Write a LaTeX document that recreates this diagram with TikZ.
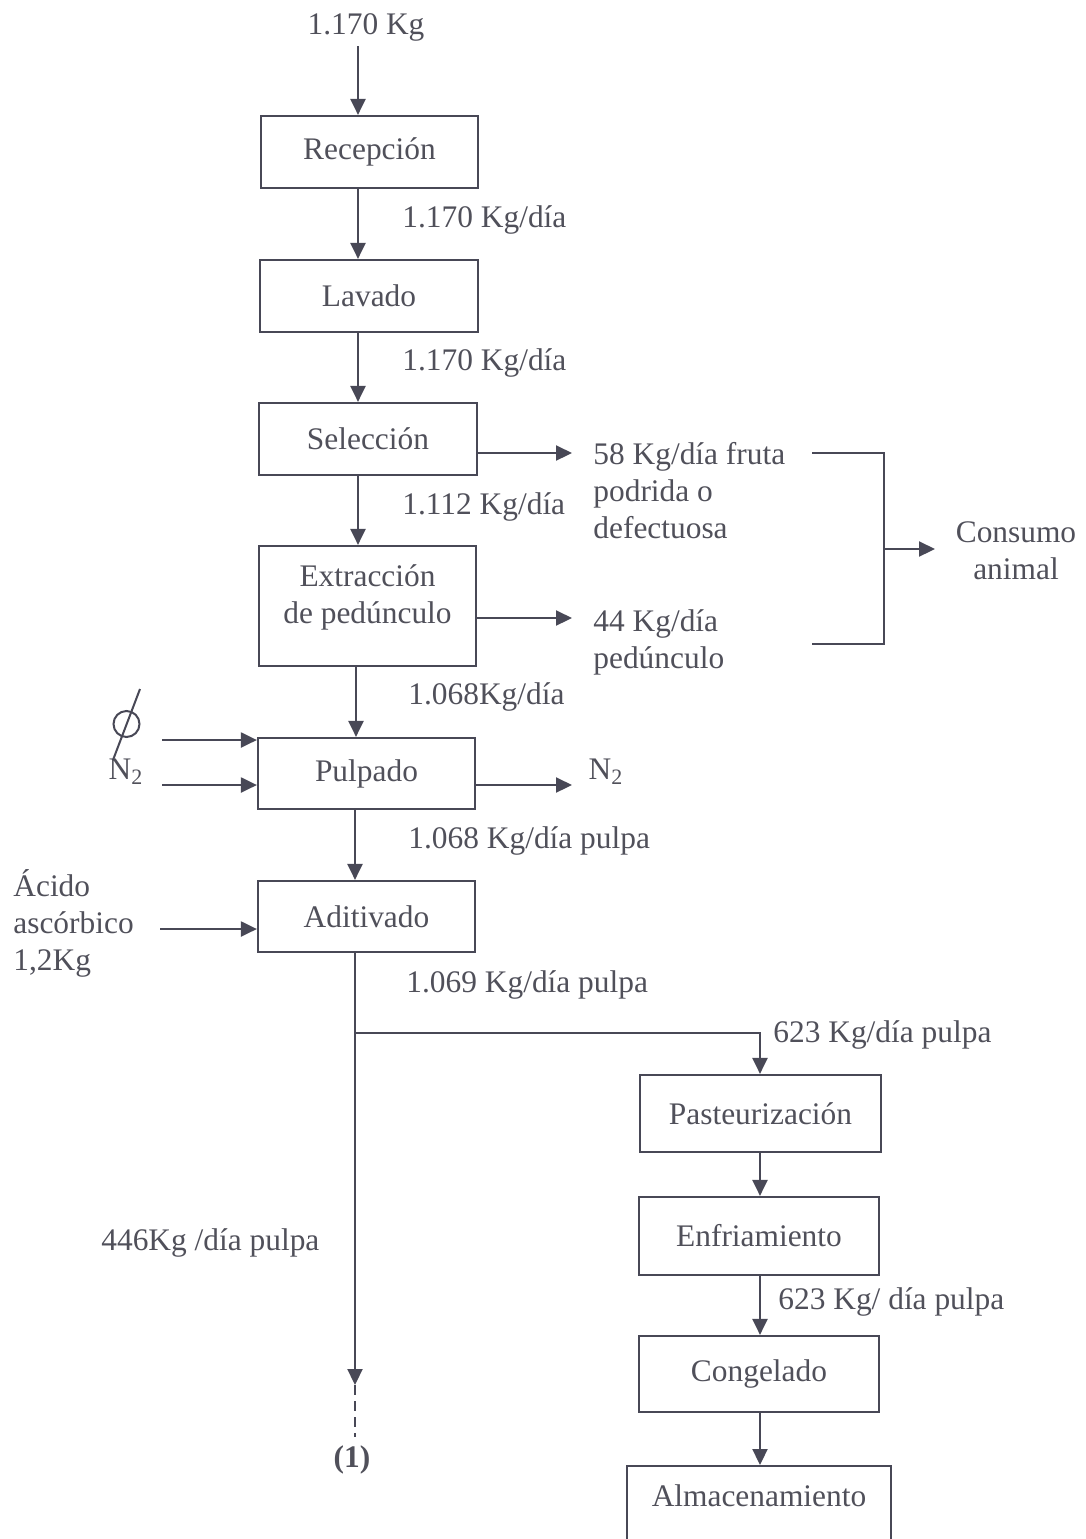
\documentclass[tikz,border=0pt]{standalone}
\usepackage{fontspec}
\setmainfont{Liberation Serif}
\usetikzlibrary{arrows.meta}
\definecolor{ink}{RGB}{72,72,86}
\definecolor{txt}{RGB}{80,80,90}
\tikzset{
  procbox/.style={draw=ink, line width=1.1pt, fill=white, text=txt, inner sep=0pt, align=center},
  lbl/.style={text=txt, inner sep=0pt, anchor=west, align=left},
  flow/.style={draw=ink, line width=1.1pt, -{Triangle[length=8pt,width=7.5pt]}},
  plain/.style={draw=ink, line width=1.1pt},
}
\begin{document}
\begin{tikzpicture}[x=0.5pt,y=-0.5pt, font=\fontsize{15.7}{18.5}\selectfont]
\useasboundingbox (0,0) rectangle (1086,1539);

% process boxes
\node[procbox, minimum width=108.5pt, minimum height=36pt] (rec) at (369.5,152) {Recepción};
\node[procbox, minimum width=109pt, minimum height=36pt] (lav) at (369,296) {Lavado};
\node[procbox, minimum width=109pt, minimum height=36pt] (sel) at (368,439) {Selección};
\node[procbox, minimum width=108.5pt, minimum height=60pt, text depth=12pt] (ext) at (367.5,606) {Extracción\\de pedúnculo};
\node[procbox, minimum width=108.5pt, minimum height=35.5pt] (pul) at (366.5,773.5) {Pulpado};
\node[procbox, minimum width=108.5pt, minimum height=35.5pt] (adi) at (366.5,916.5) {Aditivado};
\node[procbox, minimum width=120.5pt, minimum height=38.5pt] (pas) at (760.5,1113.5) {Pasteurización};
\node[procbox, minimum width=120pt, minimum height=39pt] (enf) at (759,1236) {Enfriamiento};
\node[procbox, minimum width=120pt, minimum height=38pt] (con) at (759,1374) {Congelado};
\node[procbox, minimum width=132pt, text height=20pt, text depth=40pt, anchor=north] (alm) at (759,1465) {Almacenamiento};

% main line
\node[text=txt, inner sep=0pt] (in) at (366,27) {1.170 Kg};
\coordinate (inTop) at (358,46);
\draw[flow] (inTop) -- (inTop |- rec.north);
\draw[flow] (rec.south -| inTop) -- (lav.north -| inTop);
\draw[flow] (lav.south -| inTop) -- (sel.north -| inTop);
\draw[flow] (sel.south -| inTop) -- (ext.north -| inTop);
\coordinate (m2) at (356,0);
\draw[flow] (ext.south -| m2) -- (pul.north -| m2);
\coordinate (m3) at (355,0);
\draw[flow] (pul.south -| m3) -- (adi.north -| m3);

\node[lbl] (l1) at (402,220) {1.170 Kg/día};
\node[lbl] (l2) at (402,363) {1.170 Kg/día};
\node[lbl] (l3) at (402,507) {1.112 Kg/día};
\node[lbl] (l4) at (408,697) {1.068Kg/día};
\node[lbl] (l5) at (408,841) {1.068 Kg/día pulpa};
\node[lbl] (l6) at (406,985) {1.069 Kg/día pulpa};

% side streams to animal feed
\node[lbl, align=left, anchor=north west] (r1) at (593,442) {58 Kg/día fruta\\podrida o\\defectuosa};
\node[lbl, align=left, anchor=north west] (r2) at (593,609) {44 Kg/día\\pedúnculo};
\coordinate (a1) at (572,453);
\coordinate (a2) at (572,618);
\draw[flow] (sel.east |- a1) -- (a1);
\draw[flow] (ext.east |- a2) -- (a2);
\coordinate (b1) at (812,453);
\coordinate (b2) at (884,453);
\coordinate (b3) at (884,644);
\coordinate (b4) at (812,644);
\draw[plain] (b1) -- (b2) -- (b3) -- (b4);
\node[text=txt, inner sep=0pt, align=center] (ani) at (1016,551) {Consumo\\animal};
\coordinate (bm) at (884,549);
\coordinate (bt) at (935,549);
\draw[flow] (bm) -- (bt);

% nitrogen
\coordinate (n1) at (162,740);
\coordinate (n2) at (162,785);
\draw[flow] (n1) -- (pul.west |- n1);
\draw[flow] (n2) -- (pul.west |- n2);
\node[text=txt, inner sep=0pt] (nin) at (126,772) {N\textsubscript{2}};
\draw[ink, line width=1pt] (126.5,724) circle (13);
\draw[ink, line width=1pt] (140,689) -- (113,760);
\coordinate (no) at (572,785);
\draw[flow] (pul.east |- no) -- (no);
\node[text=txt, inner sep=0pt] (nout) at (606,772) {N\textsubscript{2}};

% ascorbic acid
\node[lbl, anchor=north west] (aci) at (13,869) {Ácido\\ascórbico\\1,2Kg};
\coordinate (ac) at (160,929);
\draw[flow] (ac) -- (adi.west |- ac);

% split after additive stage
\coordinate (sp) at (355,1033);
\coordinate (spR) at (760,1033);
\coordinate (endA) at (355,1385);
\coordinate (endB) at (355,1437);
\draw[plain] (adi.south -| sp) -- (sp);
\draw[flow] (sp) -- (endA);
\draw[ink, line width=1.1pt, dash pattern=on 5pt off 3pt] (endA) -- (endB);
\node[text=txt, inner sep=0pt, font=\fontsize{15.7}{18.5}\selectfont\bfseries] (one) at (352,1460) {(1)};
\draw[flow] (sp) -- (spR) -- (pas.north -| spR);
\node[lbl] (l7) at (773,1035) {623 Kg/día pulpa};
\node[lbl] (l8) at (101,1243) {446Kg /día pulpa};

% cold chain
\draw[flow] (pas.south -| spR) -- (enf.north -| spR);
\draw[flow] (enf.south -| spR) -- (con.north -| spR);
\draw[flow] (con.south -| spR) -- (alm.north -| spR);
\node[lbl] (l9) at (778,1302) {623 Kg/ día pulpa};
\end{tikzpicture}
\end{document}
